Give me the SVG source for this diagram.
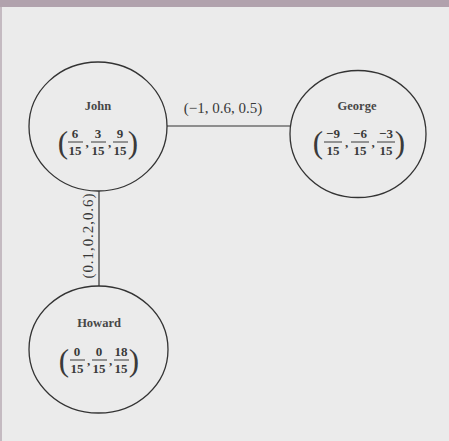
<svg xmlns="http://www.w3.org/2000/svg" width="449" height="441" viewBox="0 0 449 441">
<style>
.node{fill:none;stroke:#333;stroke-width:1.3}
.edge{stroke:#333;stroke-width:1.2;fill:none}
.name{font-family:"Liberation Serif",serif;font-weight:bold;font-size:12.5px;fill:#474747;text-anchor:middle}
.num{font-family:"Liberation Serif",serif;font-weight:bold;font-size:13px;fill:#3a3a3a;text-anchor:middle}
.par{font-family:"Liberation Serif",serif;font-size:31px;fill:#3a3a3a;text-anchor:middle}
.bar{stroke:#3a3a3a;stroke-width:1}
.lbl{font-family:"Liberation Serif",serif;font-size:15px;fill:#383838;text-anchor:middle}
</style>
<rect x="0" y="0" width="449" height="441" fill="#ebebeb"/>
<rect x="0" y="0" width="449" height="7" fill="#b1a2ad"/>
<rect x="0" y="7" width="2" height="434" fill="#c4bac1"/>
<g id="connectors">
<line class="edge" x1="167" y1="126" x2="290" y2="126"/>
<line class="edge" x1="99" y1="191" x2="99" y2="286"/>
<text class="lbl" x="223" y="113">(−1, 0.6, 0.5)</text>
<text class="lbl" transform="translate(93,236) rotate(-90)" x="0" y="0" font-size="16" textLength="85" lengthAdjust="spacing">(0.1,0.2,0.6)</text>
</g>
<g id="john">
<ellipse class="node" cx="98" cy="126.5" rx="69" ry="64.5"/>
<text class="name" x="98" y="110">John</text>
<text class="par" x="63" y="153">(</text>
<text class="par" x="133" y="153">)</text>
<text class="num" x="75" y="138">6</text>
<text class="num" x="98" y="138">3</text>
<text class="num" x="120" y="138">9</text>
<line class="bar" x1="68" y1="142" x2="83" y2="142"/>
<line class="bar" x1="91" y1="142" x2="106" y2="142"/>
<line class="bar" x1="113" y1="142" x2="128" y2="142"/>
<text class="num" x="75" y="155">15</text>
<text class="num" x="98" y="155">15</text>
<text class="num" x="120" y="155">15</text>
<text class="num" x="87" y="147">,</text>
<text class="num" x="109.5" y="147">,</text>
</g>
<g id="george">
<ellipse class="node" cx="358" cy="134" rx="68" ry="63.5"/>
<text class="name" x="357" y="110">George</text>
<text class="par" x="318" y="153">(</text>
<text class="par" x="400" y="153">)</text>
<text class="num" x="333" y="138">−9</text>
<text class="num" x="360" y="138">−6</text>
<text class="num" x="386" y="138">−3</text>
<line class="bar" x1="324" y1="142" x2="342" y2="142"/>
<line class="bar" x1="351" y1="142" x2="369" y2="142"/>
<line class="bar" x1="377" y1="142" x2="395" y2="142"/>
<text class="num" x="333" y="155">15</text>
<text class="num" x="360" y="155">15</text>
<text class="num" x="386" y="155">15</text>
<text class="num" x="346.5" y="147">,</text>
<text class="num" x="373" y="147">,</text>
</g>
<g id="howard">
<ellipse class="node" cx="98.5" cy="349.5" rx="69.5" ry="63.5"/>
<text class="name" x="99" y="327">Howard</text>
<text class="par" x="64" y="371">(</text>
<text class="par" x="134" y="371">)</text>
<text class="num" x="77" y="356">0</text>
<text class="num" x="99" y="356">0</text>
<text class="num" x="121" y="356">18</text>
<line class="bar" x1="70" y1="360" x2="85" y2="360"/>
<line class="bar" x1="92" y1="360" x2="107" y2="360"/>
<line class="bar" x1="114" y1="360" x2="129" y2="360"/>
<text class="num" x="77" y="373">15</text>
<text class="num" x="99" y="373">15</text>
<text class="num" x="121" y="373">15</text>
<text class="num" x="88.5" y="365">,</text>
<text class="num" x="110.5" y="365">,</text>
</g>
</svg>
